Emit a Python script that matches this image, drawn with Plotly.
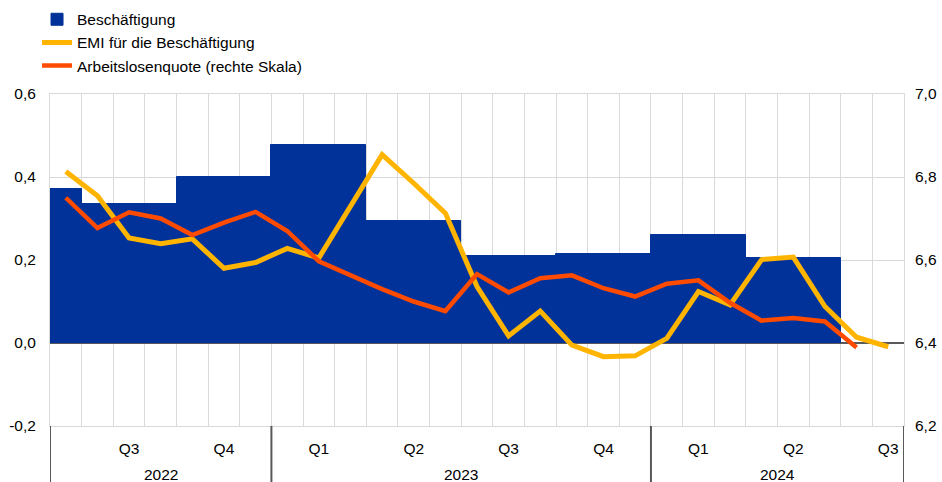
import plotly.graph_objects as go

# ---- data ----
months = ["2022-06", "2022-07", "2022-08", "2022-09", "2022-10", "2022-11", "2022-12",
          "2023-01", "2023-02", "2023-03", "2023-04", "2023-05", "2023-06",
          "2023-07", "2023-08", "2023-09", "2023-10", "2023-11", "2023-12",
          "2024-01", "2024-02", "2024-03", "2024-04", "2024-05", "2024-06",
          "2024-07", "2024-08"]

emi = [0.413, 0.355, 0.253, 0.239, 0.251, 0.180, 0.194,
       0.228, 0.205, 0.330, 0.454, 0.385, 0.313,
       0.136, 0.017, 0.077, -0.005, -0.033, -0.031,
       0.011, 0.124, 0.092, 0.201, 0.207, 0.088,
       0.014, -0.009]

unemp = [6.750, 6.677, 6.715, 6.700, 6.660, 6.690, 6.716,
         6.670, 6.597, 6.564, 6.530, 6.500, 6.477,
         6.566, 6.522, 6.556, 6.563, 6.532, 6.512,
         6.543, 6.551, 6.497, 6.454, 6.460, 6.452,
         6.389, None]

emp_quarters = ["2022Q2", "2022Q3", "2022Q4", "2023Q1", "2023Q2", "2023Q3",
                "2023Q4", "2024Q1", "2024Q2"]
emp_values = [0.370, 0.334, 0.401, 0.478, 0.293, 0.209, 0.214, 0.261, 0.205]

tick_quarters = ["2022Q3", "2022Q4", "2023Q1", "2023Q2", "2023Q3", "2023Q4",
                 "2024Q1", "2024Q2", "2024Q3"]
years = ["2022", "2023", "2024"]

left_ticks = [-0.2, 0.0, 0.2, 0.4, 0.6]
right_ticks = [6.2, 6.4, 6.6, 6.8, 7.0]

names = ["Beschäftigung", "EMI für die Beschäftigung", "Arbeitslosenquote (rechte Skala)"]
BLUE, YELLOW, RED = "#003299", "#FFB400", "#FF4B00"
GRID = "#d9d9d9"
FONT = "Liberation Sans, Arial, sans-serif"
FS = 15.5

# ---- helpers: month index positions ----
y0, m0 = int(months[0][:4]), int(months[0][5:])


def midx(year, month):
    return (year - y0) * 12 + (month - m0)


def qcenter(q):
    return midx(int(q[:4]), 3 * int(q[5]) - 1)


def fmt(v):
    return f"{v:.1f}".replace(".", ",")


x = list(range(len(months)))
emp_x = [qcenter(q) for q in emp_quarters]
tick_x = [qcenter(q) for q in tick_quarters]
tick_text = [q[4:] for q in tick_quarters]

lo, hi = -0.5, len(months) - 0.5
month_years = [m[:4] for m in months]
year_bounds = [lo] + [i - 0.5 for i in range(1, len(months)) if month_years[i] != month_years[i - 1]] + [hi]
year_centers = [(year_bounds[i] + year_bounds[i + 1]) / 2 for i in range(len(years))]

fig = go.Figure()
fig.add_trace(go.Bar(x=emp_x, y=emp_values, width=3, name=names[0],
                     marker=dict(color=BLUE, line=dict(color=BLUE, width=1))))
fig.add_trace(go.Scatter(x=x, y=emi, mode="lines", name=names[1],
                         line=dict(color=YELLOW, width=5)))
fig.add_trace(go.Scatter(x=x, y=unemp, mode="lines", name=names[2], yaxis="y2",
                         line=dict(color=RED, width=4.5)))

for b in year_bounds:
    fig.add_shape(type="line", xref="x", yref="paper", x0=b, x1=b, y0=-0.17, y1=0,
                  line=dict(color="#595959", width=2))

for yr, c in zip(years, year_centers):
    fig.add_annotation(x=c, y=-0.147, xref="x", yref="paper", text=yr, showarrow=False,
                       font=dict(family=FONT, size=FS, color="#000"), yanchor="middle")

fig.update_layout(
    width=942, height=482,
    margin=dict(l=50, r=38, t=94, b=56, autoexpand=False),
    plot_bgcolor="white", paper_bgcolor="white",
    font=dict(family=FONT, size=FS, color="#000"),
    showlegend=True,
    legend=dict(x=-0.0152, y=1.275, xref="paper", yref="paper", xanchor="left", yanchor="top",
                font=dict(family=FONT, size=FS), bgcolor="rgba(0,0,0,0)", traceorder="normal",
                itemwidth=30),
    xaxis=dict(range=[lo, hi], tickmode="array", tickvals=tick_x, ticktext=tick_text,
               showgrid=False, zeroline=False, ticks="", ticklabelstandoff=8,
               minor=dict(tickmode="array", tickvals=[i - 0.5 for i in range(len(months) + 1)],
                          showgrid=True, gridcolor=GRID, gridwidth=1, ticks=""),
               showline=True, mirror=True, linecolor=GRID, linewidth=1, layer="below traces"),
    yaxis=dict(range=[-0.2, 0.6], tickmode="array", tickvals=left_ticks,
               ticktext=[fmt(v) for v in left_ticks], showgrid=True,
               gridcolor=GRID, gridwidth=1, zeroline=True, zerolinecolor="#595959",
               zerolinewidth=2, ticks="", ticklabelstandoff=10,
               showline=True, mirror=True, linecolor=GRID, linewidth=1, layer="below traces"),
    yaxis2=dict(range=[6.2, 7.0], tickmode="array", tickvals=right_ticks,
                ticktext=[fmt(v) for v in right_ticks], overlaying="y", side="right",
                showgrid=False, zeroline=False, ticks="", ticklabelstandoff=10),
    bargap=0,
)

fig.write_html("out.html", config={"displayModeBar": False},
               post_script="document.body.style.margin='0';document.body.style.overflow='hidden';")
